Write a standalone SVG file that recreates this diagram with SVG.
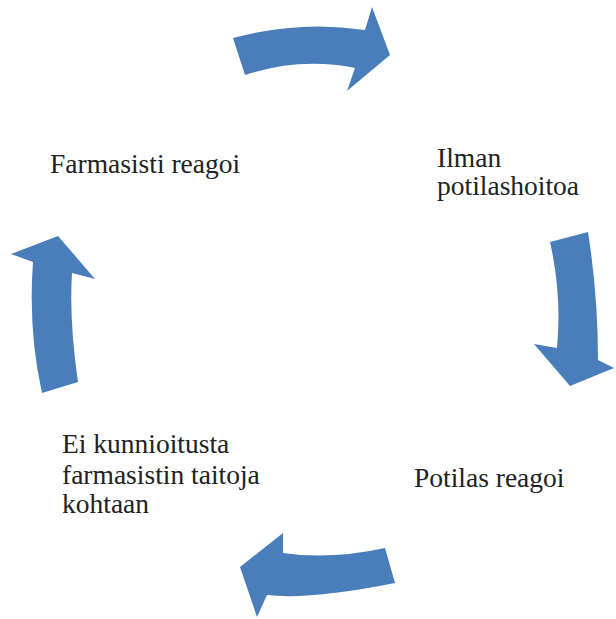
<svg xmlns="http://www.w3.org/2000/svg" width="616" height="619" viewBox="0 0 616 619">
<style>
.t{font-family:"Liberation Serif","Times New Roman",serif;font-size:27.5px;fill:#222}
.a{fill:#4A7EBB}
</style>
<rect width="616" height="619" fill="#fff"/>
<g id="connectors">
<path class="a" d="M233,38 Q300,20 365,30 L372,7 L390,55 L347,91 L355,68 Q300,57 245,75 Z"/>
<path class="a" d="M550,242 L588,232 Q598,295 598,360 L614,368 L570,386 L534,344 L557,348 Q562,295 550,242 Z"/>
<path class="a" d="M385,548 Q330,560 283,553 L283,533 L240,567 L257,617 L267,595 Q310,600 395,583 Z"/>
<path class="a" d="M42,393 L78,382 Q69,320 72,273 L95,279 L58,236 L11,254 L33,262 Q28,330 42,393 Z"/>
</g>
<g id="node-farmasisti"><text class="t" x="50" y="173">Farmasisti reagoi</text></g>
<g id="node-ilman"><text class="t" x="437" y="167">Ilman</text><text class="t" x="437" y="195">potilashoitoa</text></g>
<g id="node-potilas"><text class="t" x="414" y="487">Potilas reagoi</text></g>
<g id="node-ei"><text class="t" x="62" y="453">Ei kunnioitusta</text><text class="t" x="62" y="484">farmasistin taitoja</text><text class="t" x="62" y="513">kohtaan</text></g>
</svg>
